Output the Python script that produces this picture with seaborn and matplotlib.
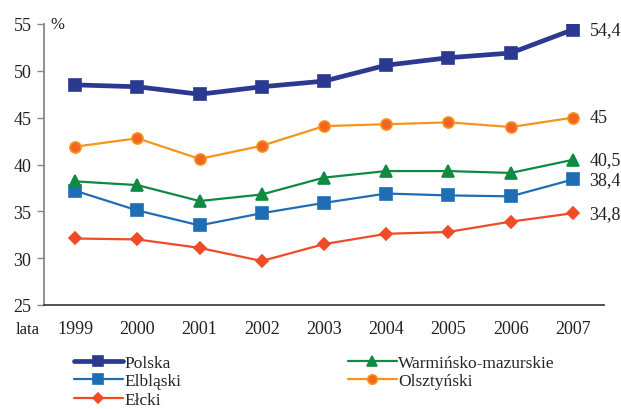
import pandas as pd
import matplotlib.pyplot as plt
import seaborn as sns

# data
years = ['1999', '2000', '2001', '2002', '2003', '2004', '2005', '2006', '2007']
polska = [48.5, 48.3, 47.5, 48.3, 48.9, 50.6, 51.4, 51.9, 54.4]
elblaski = [37.2, 35.1, 33.5, 34.8, 35.9, 36.9, 36.7, 36.6, 38.4]
elcki = [32.1, 32.0, 31.1, 29.7, 31.5, 32.6, 32.8, 33.9, 34.8]
warminsko = [38.2, 37.8, 36.1, 36.8, 38.6, 39.3, 39.3, 39.1, 40.5]
olsztynski = [41.9, 42.8, 40.6, 42.0, 44.1, 44.3, 44.5, 44.0, 45.0]
end_labels = ['54,4', '38,4', '34,8', '40,5', '45']

series = {
    'Polska': polska,
    'Elbląski': elblaski,
    'Ełcki': elcki,
    'Warmińsko-mazurskie': warminsko,
    'Olsztyński': olsztynski,
}

styles = {
    'Polska': dict(color='#2B3990', lw=3.4, marker='s', ms=9, mfc='#2B3990', mec='#2B3990'),
    'Elbląski': dict(color='#1F6DB5', lw=1.6, marker='s', ms=8, mfc='#1F6DB5', mec='#1F6DB5'),
    'Ełcki': dict(color='#EF4B24', lw=1.6, marker='D', ms=6.5, mfc='#EF4B24', mec='#EF4B24'),
    'Warmińsko-mazurskie': dict(color='#0E8A43', lw=1.6, marker='^', ms=9, mfc='#0E8A43', mec='#0E8A43'),
    'Olsztyński': dict(color='#F7941D', lw=1.6, marker='o', ms=8, mfc='#F26522', mec='#F7941D'),
}

rows = []
for name, vals in series.items():
    for i, v in enumerate(vals):
        rows.append({'x': i, 'value': v, 'series': name})
df = pd.DataFrame(rows)

sns.set_style('white')
plt.rcParams['font.family'] = ['Liberation Serif', 'DejaVu Serif']

fig = plt.figure(figsize=(6.21, 4.10), dpi=100)
ax = fig.add_axes([44 / 621, 1 - 306 / 410, 560 / 621, 281 / 410])

for name in series:
    st = styles[name]
    sns.lineplot(data=df[df['series'] == name], x='x', y='value', ax=ax,
                 color=st['color'], linewidth=st['lw'], marker=st['marker'],
                 markersize=st['ms'], markerfacecolor=st['mfc'],
                 markeredgecolor=st['mec'], markeredgewidth=1.2, label=name)

# labels at the last point
for (name, vals), lab in zip(series.items(), end_labels):
    ax.annotate(lab, (len(vals) - 1, vals[-1]), xytext=(12, 0),
                textcoords='offset points', va='center', ha='left', fontsize=13,
                color='#231F20', annotation_clip=False)

ax.set_xlim(-0.5, len(years) - 0.5)
ax.set_ylim(25, 55)
ax.set_yticks(range(25, 56, 5))
ax.set_xticks(range(len(years)))
ax.set_xticklabels(years)
ax.set_xticks([i - 0.5 for i in range(len(years) + 1)], minor=True)
ax.tick_params(axis='x', which='major', length=0, pad=11, labelsize=13, labelcolor='#231F20')
ax.tick_params(axis='x', which='minor', length=6, direction='out', color='#333333', width=1)
ax.tick_params(axis='y', length=5, direction='out', left=True, color='#888888',
               width=1, pad=4, labelsize=13, labelcolor='#231F20')
ax.set_xlabel('')
ax.set_ylabel('')

for s in ['top', 'right']:
    ax.spines[s].set_visible(False)
ax.spines['left'].set_color('#888888')
ax.spines['left'].set_linewidth(1.3)
ax.spines['bottom'].set_color('#333333')
ax.spines['bottom'].set_linewidth(1.2)

ax.text(0.012, 1.0, '%', transform=ax.transAxes, va='center', ha='left',
        fontsize=12, color='#231F20')
fig.text(28 / 621, 1 - 330 / 410, 'lata', ha='center', va='center',
         fontsize=12, color='#231F20')

ax.legend(loc='upper left', bbox_to_anchor=(74 / 621, 1 - 356 / 410),
          bbox_transform=fig.transFigure, ncol=2, frameon=False, fontsize=12.5,
          handlelength=2.8, handletextpad=0.1, columnspacing=9.6,
          labelspacing=0.12, borderaxespad=0, borderpad=0, markerscale=0.85)

fig.savefig('out.png', dpi=100)
